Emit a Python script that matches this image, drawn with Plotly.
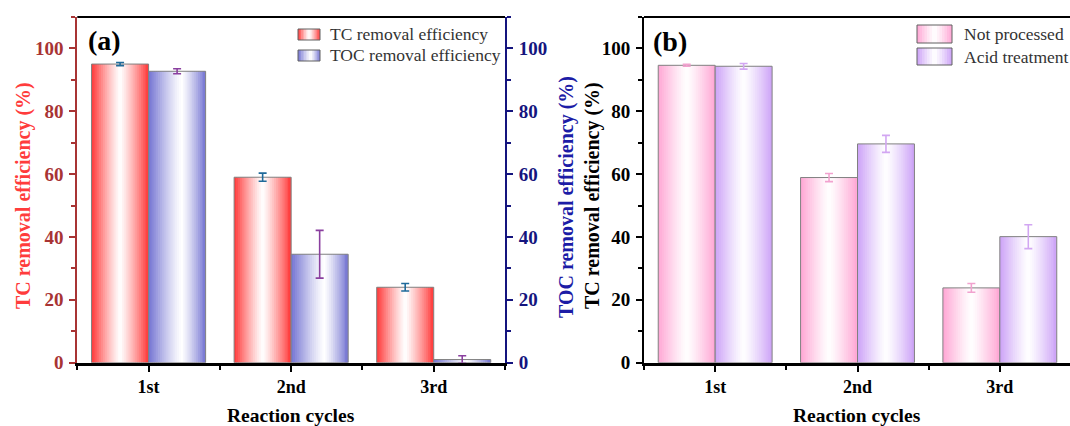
import plotly.graph_objects as go

# ---------------- data ----------------
cycles = ["1st", "2nd", "3rd"]

tc_removal = [95.0, 59.0, 24.0]
tc_err = [0.5, 1.3, 1.2]
toc_removal = [92.7, 34.5, 1.0]
toc_err = [0.8, 7.6, 1.2]

not_processed = [94.6, 58.9, 23.8]
not_processed_err = [0.3, 1.3, 1.4]
acid_treatment = [94.3, 69.6, 40.1]
acid_treatment_err = [0.9, 2.7, 3.8]

legend_a = ["TC removal efficiency", "TOC removal efficiency"]
legend_b = ["Not processed", "Acid treatment"]

# ---------------- style ----------------
W, H = 1070, 426
FONT = "Liberation Serif"
RED = (255, 55, 55)
BLUE = (115, 115, 210)
PINK = (255, 165, 212)
PURPLE = (204, 162, 247)
OUTLINE = "#808080"

xidx = list(range(len(cycles)))


def grad_color(edge, t, c=0.5, p=1.2):
    half = c if t < c else 1 - c
    a = min(1.0, (abs(t - c) / half) ** p)
    r, g, b = (round(255 * (1 - a) + e * a) for e in edge)
    return f"rgb({r},{g},{b})"


def add_gradient_bars(fig, vals, errs, offset, edge, center, err_color, xa, ya, n=30):
    bw = 0.4
    sw = bw / n
    for k in range(n):
        t = (k + 0.5) / n
        fig.add_trace(go.Bar(
            x=xidx, y=vals, offset=offset + k * sw,
            width=sw * (1.4 if k < n - 1 else 1.0),
            marker=dict(color=grad_color(edge, t, center), line=dict(width=0)),
            xaxis=xa, yaxis=ya, showlegend=False, hoverinfo="skip"))
    fig.add_trace(go.Bar(
        x=xidx, y=vals, offset=offset, width=bw,
        marker=dict(color="rgba(0,0,0,0)", line=dict(color=OUTLINE, width=1)),
        error_y=dict(type="data", array=errs, color=err_color, thickness=1.6, width=4),
        xaxis=xa, yaxis=ya, showlegend=False, hoverinfo="skip"))


fig = go.Figure()

# panel (a)
add_gradient_bars(fig, tc_removal, tc_err, -0.4, RED, 0.5, "#1f6a9a", "x", "y")
add_gradient_bars(fig, toc_removal, toc_err, 0.0, BLUE, 0.58, "#8a3f9f", "x", "y2")
# panel (b)
add_gradient_bars(fig, not_processed, not_processed_err, -0.4, PINK, 0.5, "#f2a2cf", "x2", "y3")
add_gradient_bars(fig, acid_treatment, acid_treatment_err, 0.0, PURPLE, 0.5, "#d2a6f2", "x2", "y3")

# ---------------- geometry ----------------
ydom = [(H - 362.7) / H, (H - 16.9) / H]
xdom_a = [77.3 / W, 505.0 / W]
xdom_b = [644.0 / W, 1.0]

xtickfont = dict(family=FONT, size=18, weight="bold")
ytickfont = dict(family=FONT, size=19, weight="bold")
LEFT_A = "#a83434"
RIGHT_A = "#14147e"

common_x = dict(
    tickmode="array", tickvals=xidx, ticktext=cycles,
    ticks="outside", ticklen=6, tickwidth=2, tickcolor="black",
    minor=dict(tickmode="linear", tick0=0.5, dtick=1, ticks="outside",
               ticklen=4, tickwidth=2, tickcolor="black"),
    showline=True, linewidth=3, linecolor="black", automargin=False,
    showgrid=False, zeroline=False, tickfont=dict(xtickfont, color="black"),
    fixedrange=True)

common_y = dict(
    range=[0, 110], tickmode="linear", tick0=0, dtick=20,
    ticks="outside", ticklen=6, tickwidth=2, automargin=False,
    ticklabelstandoff=2,
    minor=dict(tickmode="linear", tick0=0, dtick=10, ticks="outside",
               ticklen=4, tickwidth=2),
    showline=True, linewidth=2, showgrid=False, zeroline=False,
    domain=ydom, fixedrange=True)

fig.update_layout(
    template="none",
    width=W, height=H, margin=dict(l=0, r=0, t=0, b=0, pad=0, autoexpand=False),
    paper_bgcolor="white", plot_bgcolor="white",
    barmode="overlay", showlegend=False,
    font=dict(family=FONT),
    xaxis=dict(common_x, domain=xdom_a, range=[-0.5, 2.5], anchor="y"),
    yaxis=dict(common_y, anchor="x", linecolor=LEFT_A, tickcolor=LEFT_A,
               minor=dict(common_y["minor"], tickcolor=LEFT_A),
               tickfont=dict(ytickfont, color=LEFT_A)),
    yaxis2=dict(common_y, anchor="x", overlaying="y", side="right",
                linecolor=RIGHT_A, tickcolor=RIGHT_A,
                minor=dict(common_y["minor"], tickcolor=RIGHT_A),
                tickfont=dict(ytickfont, color=RIGHT_A)),
    xaxis2=dict(common_x, domain=xdom_b, range=[-0.5, 2.493], anchor="y3"),
    yaxis3=dict(common_y, anchor="x2", linecolor="black", tickcolor="black",
                minor=dict(common_y["minor"], tickcolor="black"),
                tickfont=dict(ytickfont, color="black")),
)

shapes = []
# top frame lines
shapes.append(dict(type="line", xref="x domain", yref="y domain", x0=0, x1=1, y0=1, y1=1,
                   line=dict(color="black", width=2)))
shapes.append(dict(type="line", xref="x2 domain", yref="y3 domain", x0=0, x1=1, y0=1, y1=1,
                   line=dict(color="black", width=2)))


def px(x):
    return x / W


def py(y):
    return 1 - y / H


def swatch(x0, x1, y0, y1, edge, c, n=14):
    sw = (x1 - x0) / n
    for k in range(n):
        t = (k + 0.5) / n
        shapes.append(dict(type="rect", xref="paper", yref="paper",
                           x0=px(x0 + k * sw), x1=px(x0 + (k + 1.3) * sw if k < n - 1 else x1),
                           y0=py(y1), y1=py(y0), fillcolor=grad_color(edge, t, c),
                           line=dict(width=0), layer="above"))
    shapes.append(dict(type="rect", xref="paper", yref="paper",
                       x0=px(x0), x1=px(x1), y0=py(y1), y1=py(y0),
                       line=dict(color="#606060", width=1), layer="above"))


swatch(298, 320, 29, 40, RED, 0.5)
swatch(298, 320, 50, 61, BLUE, 0.58)
swatch(917, 952, 25, 43, PINK, 0.5)
swatch(917, 952, 48, 65, PURPLE, 0.5)

annotations = []


def text(x, y, s, size, color="black", bold=False, angle=0, xanchor="center"):
    annotations.append(dict(
        x=px(x), y=py(y), xref="paper", yref="paper", text=s, showarrow=False,
        xanchor=xanchor, yanchor="middle", textangle=angle,
        font=dict(family=FONT, size=size, color=color, weight="bold" if bold else "normal")))


text(328, 34, legend_a[0], 17.5, "#333333", xanchor="left")
text(328, 55, legend_a[1], 17.5, "#333333", xanchor="left")
text(962, 34, legend_b[0], 17.5, "#333333", xanchor="left")
text(962, 57, legend_b[1], 17.5, "#333333", xanchor="left")

text(86, 40, "(a)", 28, "black", True, xanchor="left")
text(651, 42, "(b)", 28, "black", True, xanchor="left")

text(23, 196, "TC removal efficiency (%)", 20, "#ff3c3c", True, -90)
text(566, 197, "TOC removal efficiency (%)", 20, "#1c1ca6", True, -90)
text(592, 196, "TC removal efficiency (%)", 20, "black", True, -90)
text(291, 415, "Reaction cycles", 19.5, "black", True)
text(857, 415, "Reaction cycles", 19.5, "black", True)

fig.update_layout(shapes=shapes, annotations=annotations)
fig.write_html("out.html")
